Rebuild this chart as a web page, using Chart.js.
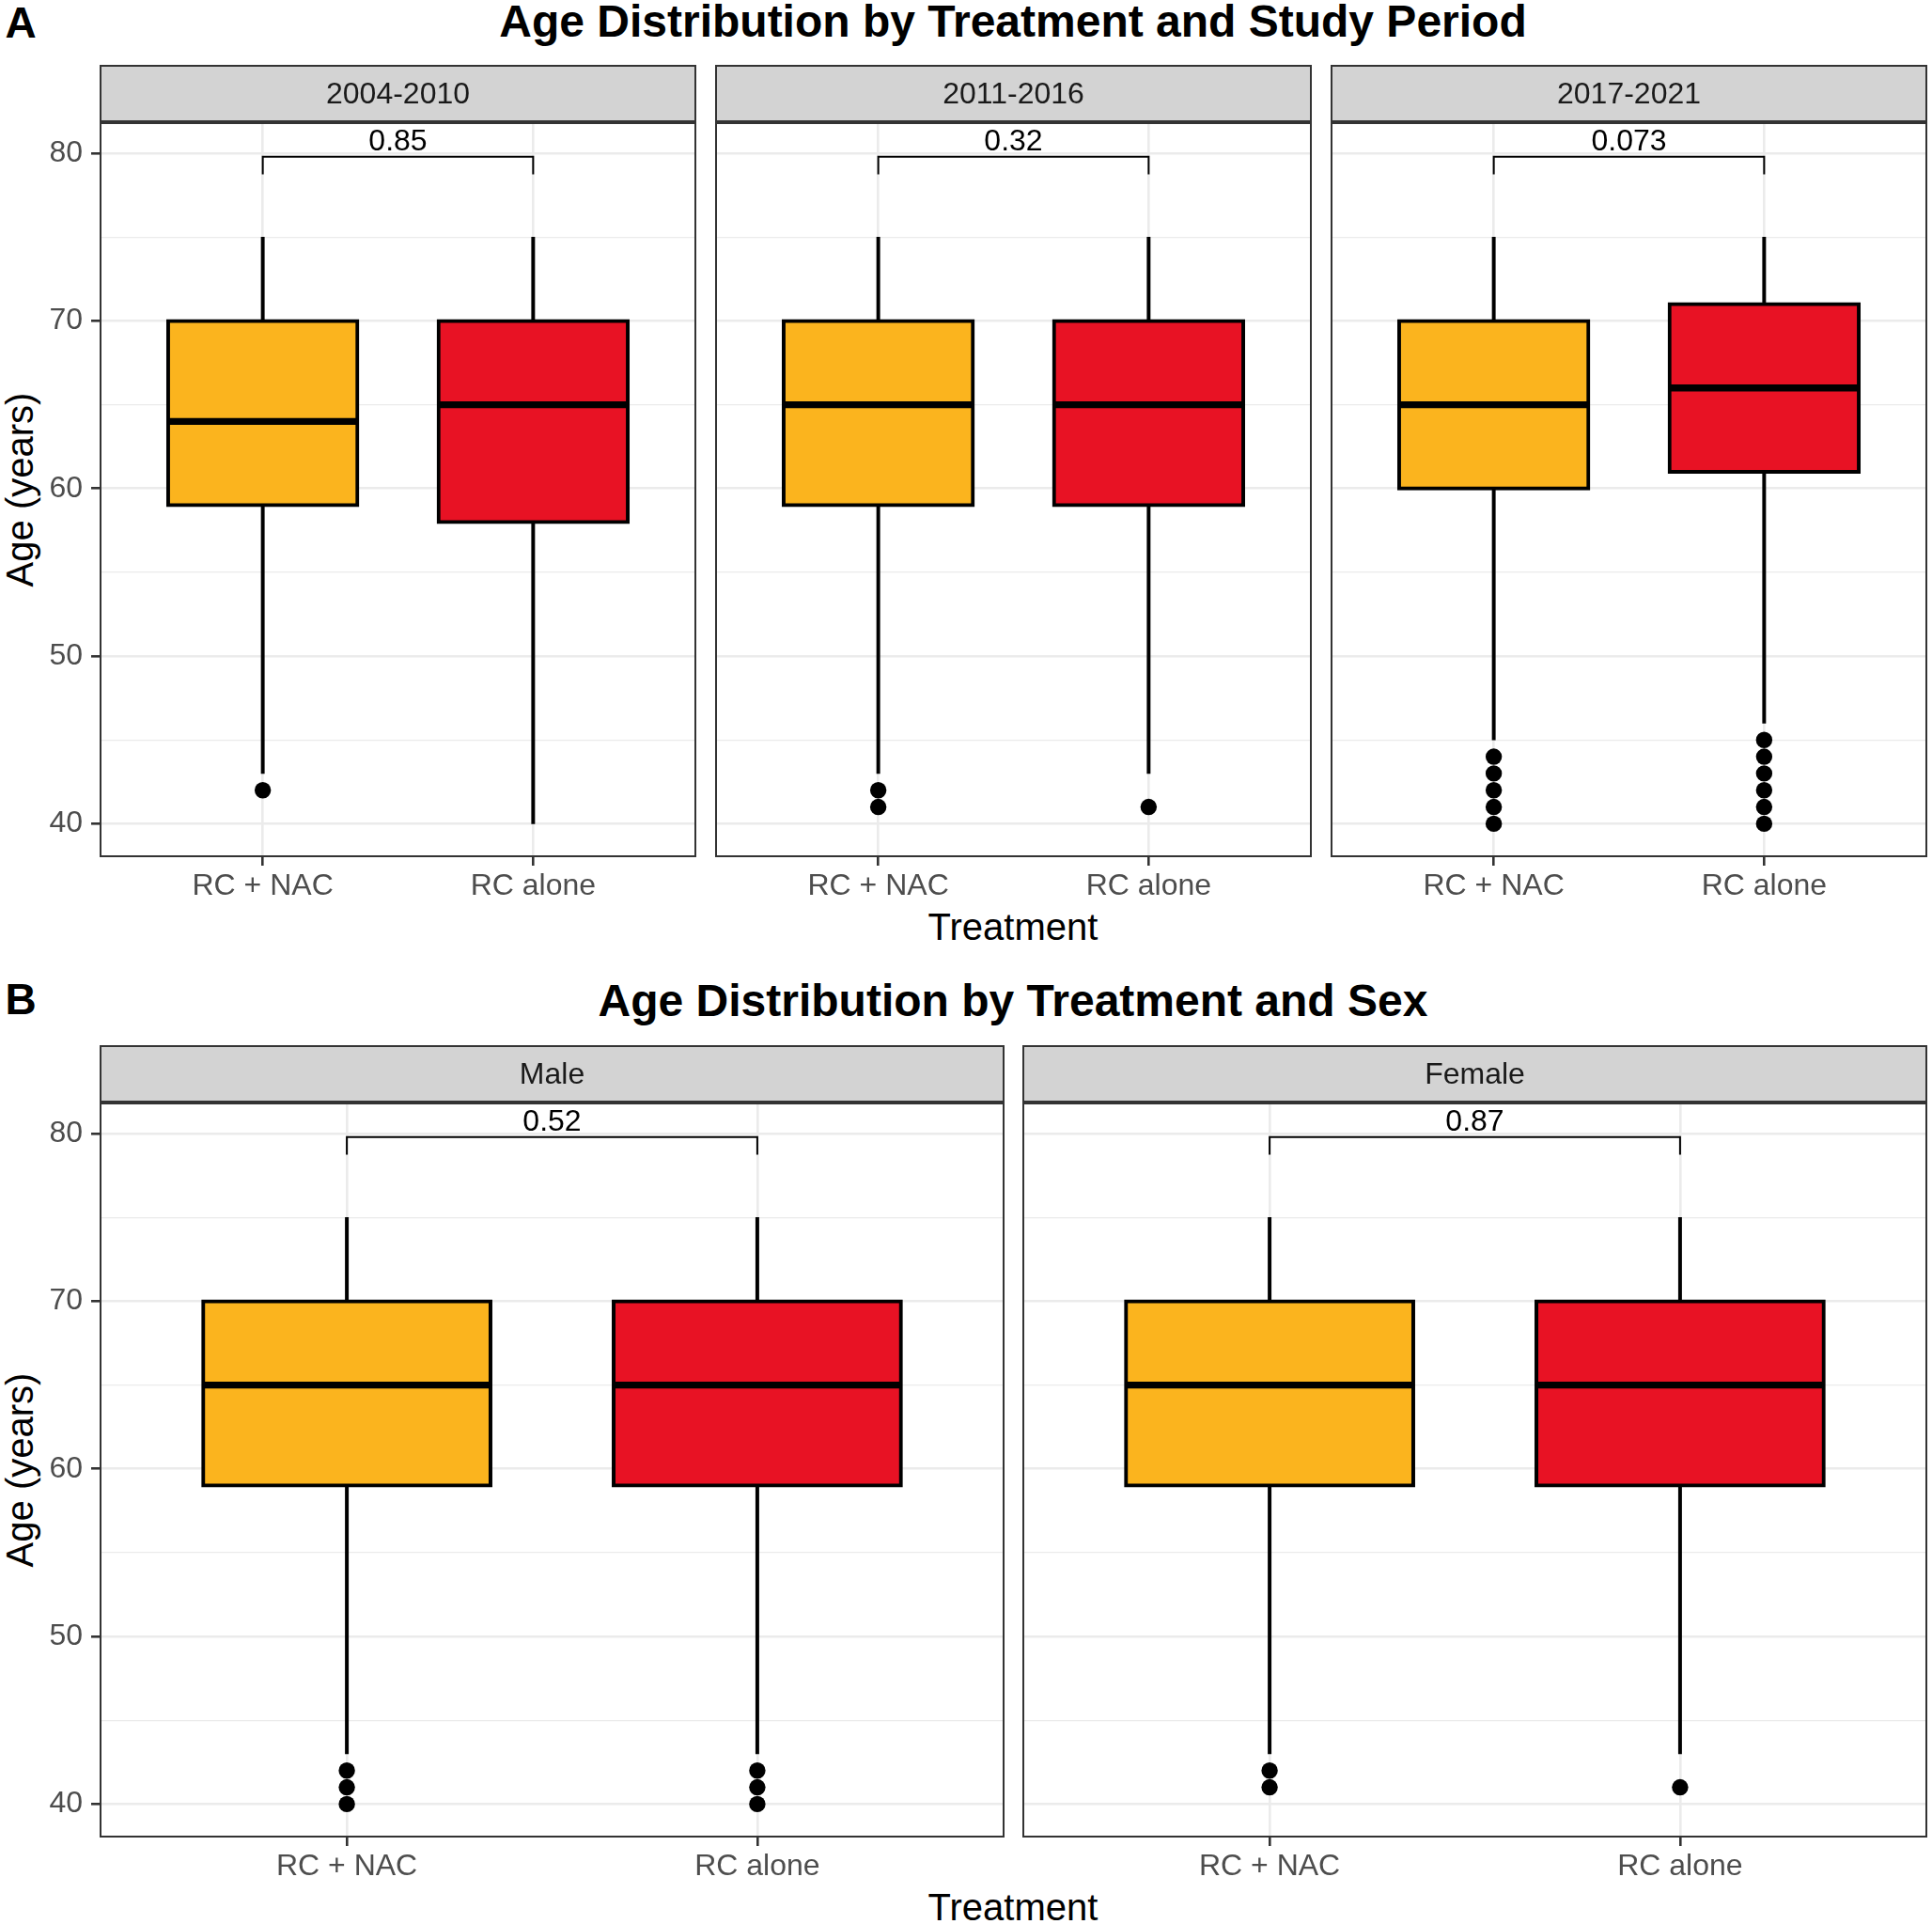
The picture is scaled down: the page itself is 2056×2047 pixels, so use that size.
<!DOCTYPE html>
<html>
<head>
<meta charset="utf-8">
<script src="https://cdn.jsdelivr.net/npm/chart.js@4.4.1/dist/chart.umd.min.js"></script>
<style>
  html, body { margin: 0; padding: 0; background: #fff; }
  #page { position: relative; width: 2056px; height: 2047px; overflow: hidden; background: #fff;
          font-family: "Liberation Sans", Arial, Helvetica, sans-serif; }
  .t { position: absolute; white-space: nowrap; line-height: 1; transform: translate(-50%, -50%); color: #000; }
  .rot { transform: translate(-50%, -50%) rotate(-90deg); }
  .b { font-weight: bold; }
  .facet { position: absolute; }
</style>
</head>
<body>
<div id="page">
  <div class="t b" style="left:22px; top:24px; font-size:46px;">A</div>
  <div class="t b" style="left:1078px; top:23px; font-size:48px;">Age Distribution by Treatment and Study Period</div>
  <div class="t" style="left:1078px; top:985.5px; font-size:40px;">Treatment</div>
  <div class="t rot" style="left:21px; top:521px; font-size:40px;">Age (years)</div>

  <div class="t b" style="left:22px; top:1063px; font-size:46px;">B</div>
  <div class="t b" style="left:1078px; top:1065px; font-size:48px;">Age Distribution by Treatment and Sex</div>
  <div class="t" style="left:1078px; top:2028.5px; font-size:40px;">Treatment</div>
  <div class="t rot" style="left:21px; top:1564px; font-size:40px;">Age (years)</div>
</div>
<script>
// ---------------- DATA ----------------
const treatments = ['RC + NAC', 'RC alone'];
const treatmentColors = ['#FBB41E', '#E81224'];

// Panel A: study period facets; each inner pair = [RC + NAC, RC alone]
const periodFacets = ['2004-2010', '2011-2016', '2017-2021'];
const periodQ1 = [[59, 58], [59, 59], [60, 61]];
const periodMedian = [[64, 65], [65, 65], [65, 66]];
const periodQ3 = [[70, 70], [70, 70], [70, 71]];
const periodWhiskerLow = [[43, 40], [43, 43], [45, 46]];
const periodWhiskerHigh = [[75, 75], [75, 75], [75, 75]];
const periodOutliers = [
  [[42], []],
  [[42, 41], [41]],
  [[44, 43, 42, 41, 40], [45, 44, 43, 42, 41, 40]]
];
const periodPValues = ['0.85', '0.32', '0.073'];

// Panel B: sex facets
const sexFacets = ['Male', 'Female'];
const sexQ1 = [[59, 59], [59, 59]];
const sexMedian = [[65, 65], [65, 65]];
const sexQ3 = [[70, 70], [70, 70]];
const sexWhiskerLow = [[43, 43], [43, 43]];
const sexWhiskerHigh = [[75, 75], [75, 75]];
const sexOutliers = [
  [[42, 41, 40], [42, 41, 40]],
  [[42, 41], [41]]
];
const sexPValues = ['0.52', '0.87'];

// significance bracket (y values)
const bracketTop = 79.8;
const bracketTip = 78.75;

// axis ticks
const yMajorTicks = [40, 50, 60, 70, 80];
const yMinorTicks = [45, 55, 65, 75];
const yRange = [38.06, 81.8];

// ---------------- LAYOUT / STYLE ----------------
const FONT = '"Liberation Sans", Arial, Helvetica, sans-serif';
const X_AXIS_H = 60;
const Y_AXIS_W = 74;
const PAD = 3, PAD_T = 2;
const BOX_WIDTH = 0.7;      // box width in category units
const BOX_LINE_W = 4;       // box outline width (px)
const WHISKER_W = 3.3;      // whisker width (px)
const MEDIAN_W = 7.3;       // median line width (px)

const rows = [
  { stripTop: 70, plotTop: 131, plotBottom: 911, lefts: [107, 762, 1417], width: 633,
    facets: periodFacets, q1: periodQ1, med: periodMedian, q3: periodQ3,
    wlo: periodWhiskerLow, whi: periodWhiskerHigh, out: periodOutliers, p: periodPValues },
  { stripTop: 1113, plotTop: 1174, plotBottom: 1954, lefts: [107, 1089], width: 961,
    facets: sexFacets, q1: sexQ1, med: sexMedian, q3: sexQ3,
    wlo: sexWhiskerLow, whi: sexWhiskerHigh, out: sexOutliers, p: sexPValues }
];

const facetPlugin = {
  id: 'facetDeco',
  afterDatasetsDraw(chart, args, opts) {
    const { ctx, chartArea: a } = chart;
    const xs = chart.scales.x, ys = chart.scales.y;
    ctx.save();
    // strip
    ctx.fillStyle = '#d3d3d3';
    ctx.fillRect(a.left, a.top - opts.stripH, a.right - a.left, opts.stripH);
    ctx.strokeStyle = '#333333';
    ctx.lineWidth = 2;
    ctx.strokeRect(a.left, a.top - opts.stripH, a.right - a.left, opts.stripH - 2);
    // panel border
    ctx.strokeRect(a.left, a.top, a.right - a.left, a.bottom - a.top);
    // strip label
    ctx.fillStyle = '#1a1a1a';
    ctx.font = '32px ' + FONT;
    ctx.textAlign = 'center';
    ctx.textBaseline = 'middle';
    ctx.fillText(opts.label, (a.left + a.right) / 2, a.top - opts.stripH / 2 + 1);
    // p-value
    ctx.fillStyle = '#000';
    ctx.textBaseline = 'alphabetic';
    const cx = (xs.getPixelForValue(1) + xs.getPixelForValue(2)) / 2;
    ctx.fillText(opts.pval, cx, ys.getPixelForValue(bracketTop) - 6.5);
    ctx.restore();
  }
};

const page = document.getElementById('page');
const isMajor = (c) => c.tick && yMajorTicks.includes(c.tick.value);

rows.forEach((row) => {
  row.facets.forEach((label, f) => {
    const first = f === 0;
    const yW = first ? Y_AXIS_W : 0;
    const stripH = row.plotTop - row.stripTop;
    const left = row.lefts[f] - PAD - yW;
    const width = PAD + yW + row.width + PAD;
    const top = row.stripTop - PAD_T;
    const height = PAD_T + stripH + (row.plotBottom - row.plotTop) + X_AXIS_H;

    const div = document.createElement('div');
    div.className = 'facet';
    div.style.left = left + 'px';
    div.style.top = top + 'px';
    div.style.width = width + 'px';
    div.style.height = height + 'px';
    const cv = document.createElement('canvas');
    div.appendChild(cv);
    page.appendChild(div);

    const g = [0, 1];
    const outlierPts = [];
    g.forEach(k => row.out[f][k].forEach(v => outlierPts.push({ x: k + 1, y: v })));
    const medianPts = [];
    g.forEach(k => {
      if (k > 0) medianPts.push({ x: k + 0.5, y: null });
      medianPts.push({ x: k + 1 - BOX_WIDTH / 2, y: row.med[f][k] });
      medianPts.push({ x: k + 1 + BOX_WIDTH / 2, y: row.med[f][k] });
    });

    new Chart(cv, {
      type: 'bar',
      data: {
        datasets: [
          { type: 'bar', label: 'whisker', order: 5, grouped: false,
            data: g.map(k => ({ x: k + 1, y: [row.wlo[f][k], row.whi[f][k]] })),
            backgroundColor: '#000', borderWidth: 0, barThickness: WHISKER_W },
          { type: 'bar', label: 'box', order: 3, grouped: false,
            data: g.map(k => ({ x: k + 1, y: [row.q1[f][k], row.q3[f][k]] })),
            backgroundColor: treatmentColors, borderColor: '#000', borderWidth: BOX_LINE_W,
            borderSkipped: false, inflateAmount: BOX_LINE_W / 2,
            barPercentage: BOX_WIDTH, categoryPercentage: 1 },
          { type: 'line', label: 'median', order: 2, data: medianPts, spanGaps: false,
            borderColor: '#000', borderWidth: MEDIAN_W, borderCapStyle: 'butt',
            pointRadius: 0, fill: false, tension: 0 },
          { type: 'line', label: 'outliers', order: 1, showLine: false,
            data: outlierPts, pointRadius: 8.7, pointBackgroundColor: '#000',
            pointBorderWidth: 0, pointHoverRadius: 8.7 },
          { type: 'line', label: 'bracket', order: 0,
            data: [{ x: 1, y: bracketTip }, { x: 1, y: bracketTop }, { x: 2, y: bracketTop }, { x: 2, y: bracketTip }],
            borderColor: '#000', borderWidth: 2, pointRadius: 0, fill: false, tension: 0 }
        ]
      },
      options: {
        responsive: true,
        maintainAspectRatio: false,
        animation: false,
        events: [],
        layout: { autoPadding: false, padding: { left: PAD, right: PAD, top: PAD_T + stripH, bottom: 0 } },
        plugins: {
          legend: { display: false },
          tooltip: { enabled: false },
          facetDeco: { label: label, pval: row.p[f], stripH: stripH }
        },
        scales: {
          x: {
            type: 'linear', min: 0.4, max: 2.6, offset: false,
            afterBuildTicks: s => { s.ticks = [{ value: 1 }, { value: 2 }]; },
            afterFit: s => { s.height = X_AXIS_H; },
            ticks: { autoSkip: false, maxRotation: 0, padding: 3,
              font: { family: FONT, size: 32 }, color: '#4d4d4d',
              callback: v => treatments[Math.round(v) - 1] },
            grid: { offset: false, color: '#ebebeb', lineWidth: 2.6, tickLength: 10,
              tickColor: '#333333', tickWidth: 2.6 },
            border: { display: false }
          },
          y: {
            type: 'linear', min: yRange[0], max: yRange[1],
            afterBuildTicks: s => { s.ticks = yMajorTicks.concat(yMinorTicks).sort((a, b) => a - b).map(v => ({ value: v })); },
            afterFit: s => { s.width = yW; },
            ticks: { display: first, autoSkip: false, padding: 9,
              font: { family: FONT, size: 32 }, color: '#4d4d4d',
              callback: v => yMajorTicks.includes(v) ? String(v) : '' },
            grid: { color: '#ebebeb', lineWidth: c => isMajor(c) ? 2.6 : 1.3,
              drawTicks: first, tickLength: 10,
              tickColor: c => isMajor(c) ? '#333333' : 'rgba(0,0,0,0)', tickWidth: 2.6 },
            border: { display: false }
          }
        }
      },
      plugins: [facetPlugin]
    });
  });
});
</script>
</body>
</html>
